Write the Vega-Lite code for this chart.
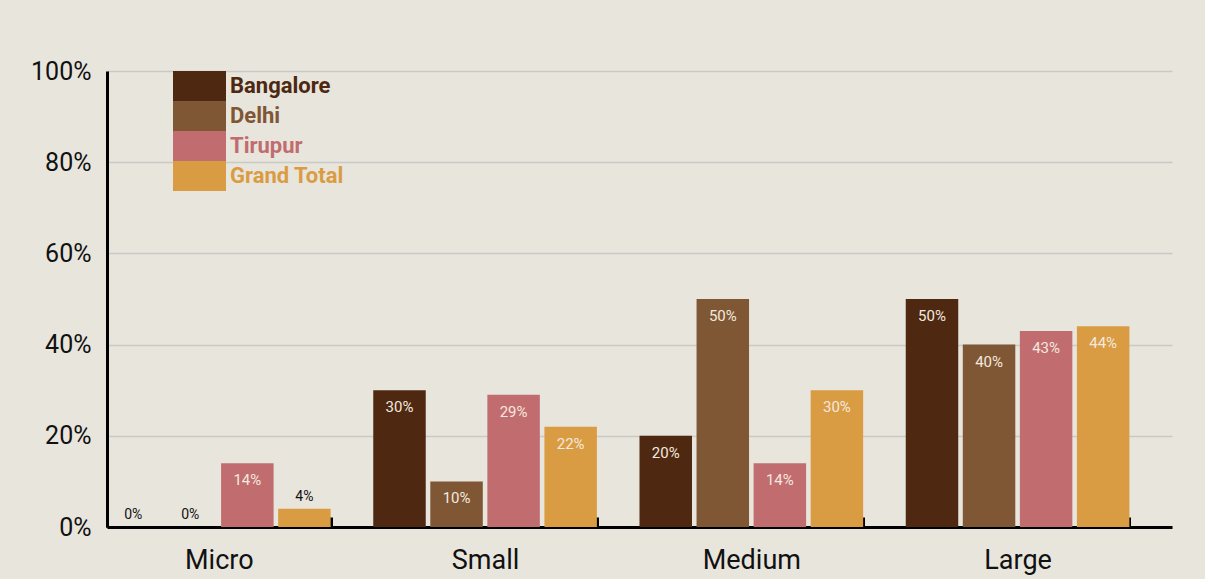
{
  "$schema": "https://vega.github.io/schema/vega-lite/v6.json",
  "width": 1065,
  "height": 456,
  "autosize": {"type": "none"},
  "padding": {"left": 107, "top": 71, "right": 33, "bottom": 52},
  "background": "#e8e5dd",
  "config": {
    "view": {"stroke": null},
    "font": "Roboto"
  },
  "data": {
    "values": [
      {"size": "Micro", "city": "Bangalore", "value": 0.0},
      {"size": "Micro", "city": "Delhi", "value": 0.0},
      {"size": "Micro", "city": "Tirupur", "value": 0.14},
      {"size": "Micro", "city": "Grand Total", "value": 0.04},
      {"size": "Small", "city": "Bangalore", "value": 0.30},
      {"size": "Small", "city": "Delhi", "value": 0.10},
      {"size": "Small", "city": "Tirupur", "value": 0.29},
      {"size": "Small", "city": "Grand Total", "value": 0.22},
      {"size": "Medium", "city": "Bangalore", "value": 0.20},
      {"size": "Medium", "city": "Delhi", "value": 0.50},
      {"size": "Medium", "city": "Tirupur", "value": 0.14},
      {"size": "Medium", "city": "Grand Total", "value": 0.30},
      {"size": "Large", "city": "Bangalore", "value": 0.50},
      {"size": "Large", "city": "Delhi", "value": 0.40},
      {"size": "Large", "city": "Tirupur", "value": 0.43},
      {"size": "Large", "city": "Grand Total", "value": 0.44}
    ]
  },
  "encoding": {
    "x": {
      "field": "size", "type": "nominal", "sort": ["Micro", "Small", "Medium", "Large"],
      "scale": {"paddingInner": 0.16, "paddingOuter": 0.08, "align": 0},
      "axis": {
        "title": null, "labelAngle": 0, "labelFontSize": 27, "labelColor": "#111111",
        "labelPadding": 30, "domainColor": "#000000", "domainWidth": 3,
        "tickBand": "extent", "tickSize": -10, "tickWidth": 3, "tickColor": "#000000"
      }
    },
    "xOffset": {
      "field": "city", "type": "nominal", "sort": ["Bangalore", "Delhi", "Tirupur", "Grand Total"],
      "scale": {"paddingInner": 0.08, "paddingOuter": 0}
    },
    "y": {
      "field": "value", "type": "quantitative",
      "scale": {"domain": [0, 1]},
      "axis": {
        "title": null, "format": ".0%", "values": [0, 0.2, 0.4, 0.6, 0.8, 1.0],
        "labelFontSize": 25, "labelColor": "#111111", "labelPadding": 16,
        "ticks": false, "domainColor": "#000000", "domainWidth": 3,
        "gridColor": "#c9c9c6", "gridWidth": 1.5
      }
    }
  },
  "layer": [
    {
      "mark": {"type": "bar"},
      "encoding": {
        "color": {
          "field": "city", "type": "nominal",
          "sort": ["Bangalore", "Delhi", "Tirupur", "Grand Total"],
          "scale": {
            "domain": ["Bangalore", "Delhi", "Tirupur", "Grand Total"],
            "range": ["#4e2811", "#7f5735", "#c16c6f", "#da9c43"]
          },
          "legend": {
            "title": null, "orient": "none", "legendX": 66, "legendY": 0,
            "symbolType": "M-1,-0.566H1V0.566H-1Z", "symbolSize": 2809,
            "symbolStrokeWidth": 0, "symbolOpacity": 1, "clipHeight": 30,
            "labelFontSize": 22, "labelFontWeight": "bold", "labelOffset": 4,
            "rowPadding": 0,
            "encode": {"labels": {"update": {"fill": {"scale": "color", "field": "value"}}}}
          }
        }
      }
    },
    {
      "transform": [{"filter": "datum.value >= 0.08"}],
      "mark": {"type": "text", "baseline": "middle", "dy": 17, "fontSize": 15, "color": "#f3e9df"},
      "encoding": {"text": {"field": "value", "type": "quantitative", "format": ".0%"}}
    },
    {
      "transform": [{"filter": "datum.value < 0.08"}],
      "mark": {"type": "text", "baseline": "bottom", "dy": -5, "fontSize": 14, "color": "#111111"},
      "encoding": {"text": {"field": "value", "type": "quantitative", "format": ".0%"}}
    }
  ]
}
